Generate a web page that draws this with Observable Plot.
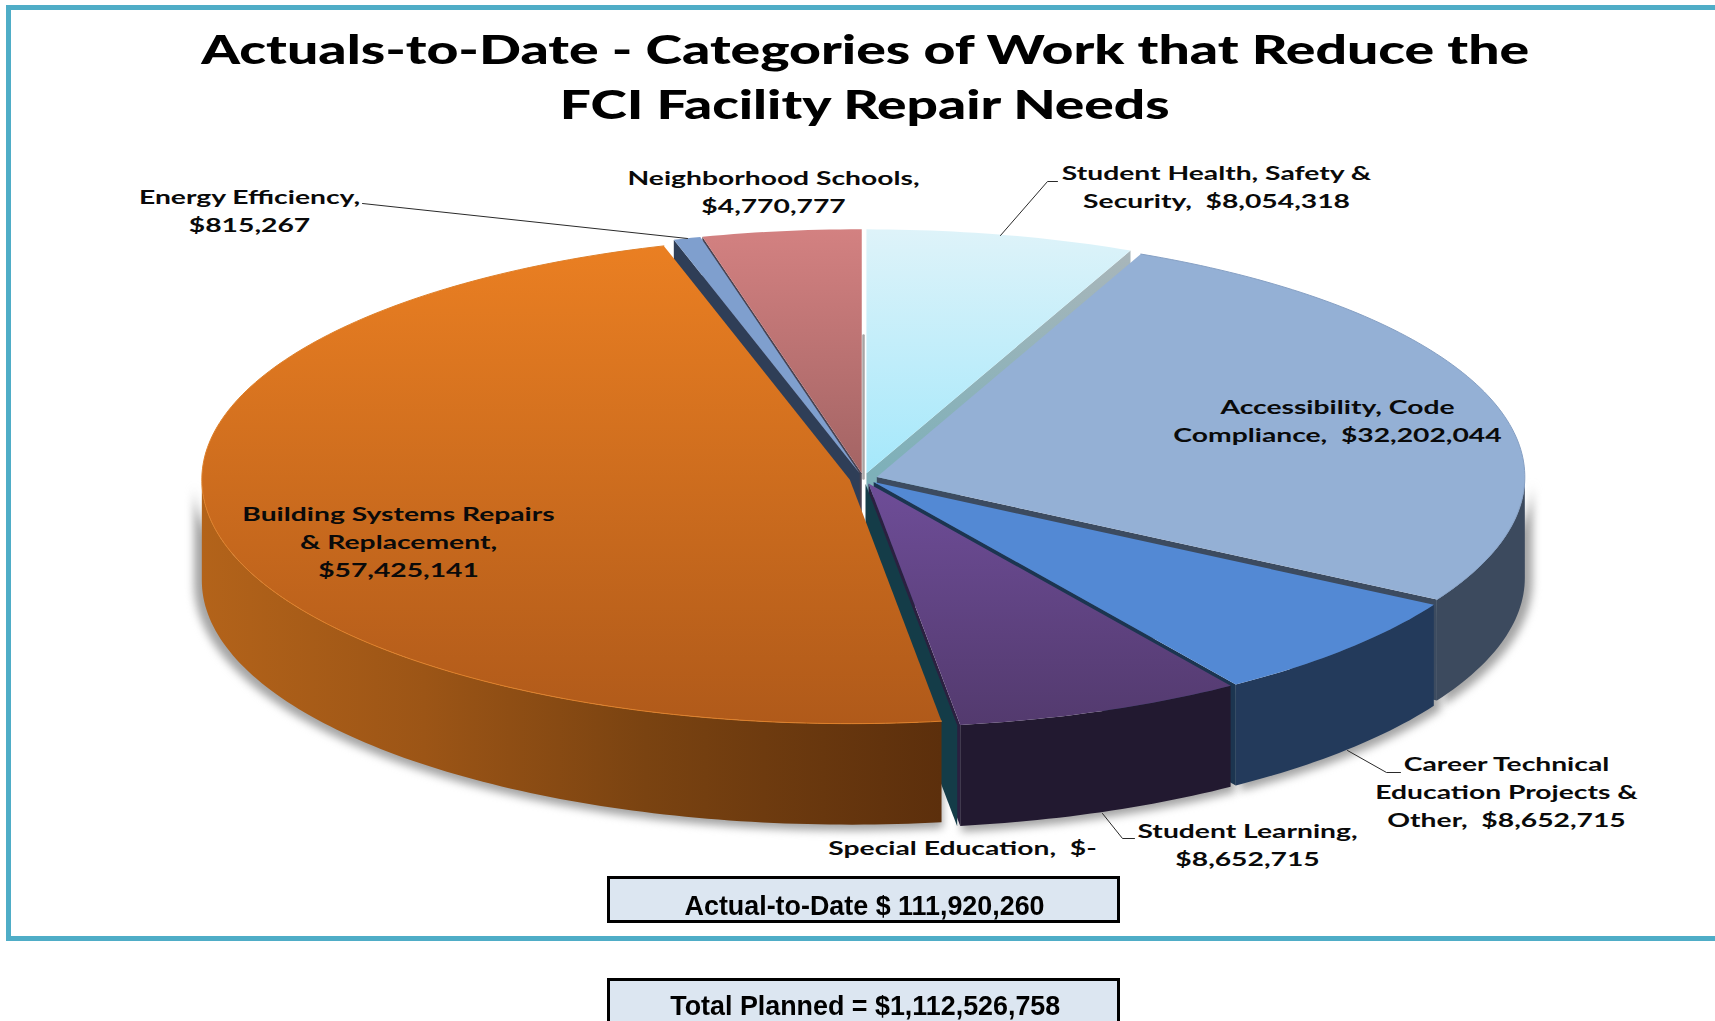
<!DOCTYPE html>
<html>
<head>
<meta charset="utf-8">
<script src="https://cdn.jsdelivr.net/npm/d3@7"></script>
<script src="https://cdn.jsdelivr.net/npm/@observablehq/plot@0.6"></script>
<style>
  html, body { margin: 0; padding: 0; background: #fff; width: 1715px; height: 1021px; overflow: hidden; }
  #page { position: relative; width: 1715px; height: 1021px; overflow: hidden; }
  #frame { position: absolute; left: 6px; top: 5px; width: 1800px; height: 926px; border: 5px solid #4fadc7; }
  #chart { position: absolute; left: 0; top: 0; }
  #chart svg text { white-space: pre; }
  .line { position: absolute; left: -135px; width: 2000px; text-align: center; white-space: nowrap; color: #000; }
  .line span { display: inline-block; transform-origin: center; white-space: pre; }
  .title { font: 900 40px/40px Lato, sans-serif; }
  .box { position: absolute; left: 607px; width: 507px; border: 3px solid #000; background: #dce6f1; }
  .boxText { font: 700 28px/30px "Liberation Sans", Arial, sans-serif; }
</style>
</head>
<body>
<div id="page">
  <div id="frame"></div>
  <div class="box" style="top:876px;height:41px"></div>
  <div class="box" style="top:978px;height:60px"></div>
  <div id="chart"></div>
  <div class="line title" style="top:29px"><span data-w="1328">Actuals-to-Date - Categories of Work that Reduce the</span></div>
  <div class="line title" style="top:84px"><span data-w="610">FCI Facility Repair Needs</span></div>
  <div class="line boxText" style="top:891px"><span data-w="360">Actual-to-Date $ 111,920,260</span></div>
  <div class="line boxText" style="top:991px"><span data-w="390">Total Planned = $1,112,526,758</span></div>
</div>
<script>
// ---- chart values ----
const categories = ["Student Health, Safety & Security", "Accessibility, Code Compliance", "Career Technical Education Projects & Other", "Student Learning", "Special Education", "Building Systems Repairs & Replacement", "Energy Efficiency", "Neighborhood Schools"];
const values = [8054318, 32202044, 8652715, 8652715, 0, 57425141, 815267, 4770777];
const labelTexts = [
  "Student Health, Safety &\nSecurity,  $8,054,318",
  "Accessibility, Code\nCompliance,  $32,202,044",
  "Career Technical\nEducation Projects &\nOther,  $8,652,715",
  "Student Learning,\n$8,652,715",
  "Special Education,  $-",
  "Building Systems Repairs\n& Replacement,\n$57,425,141",
  "Energy Efficiency,\n$815,267",
  "Neighborhood Schools,\n$4,770,777"
];

// ---- layout and style (pixels of the page, converted through the scales' inverse) ----
const cx = 863, cy = 478, rx = 648, ry = 244;
const explode = 0.0216, depth = 101 / ry;
const toX = (px) => (px - cx) / rx, toY = (py) => (py - cy) / ry;
const labelCenters = [[1216, 184.5], [1337, 418.5], [1506, 789.5], [1247, 842.5], [962, 846], [398, 539.5], [249, 208.5], [773, 189.5]];
const leaders = [
  [[1057, 181], [1047, 181], [1000, 235]],
  [[1400, 772], [1386, 772], [1347, 750]],
  [[1134, 838], [1122, 838], [1102, 813]],
  [[362, 203], [687, 238]]
];
const topFills = ["url(#gHealth)", "#94b0d5", "#5389d4", "url(#gLearn)", "#143c48", "url(#gOrange)", "#7f9fce", "url(#gRose)"];
const faceFills = ["url(#gHealthFace)", "#3c4b60", "#1c3550", "#2b2040", "#143c48", "#5e3010", "#2f3e57", "#4a4250"];
const wallFills = ["#3c4a5e", "#3c4a5e", "#233a5b", "#221930", "#143c48", "url(#gOrangeWall)", "#2f3e57", "#5e4a4e"];
const rimColors = [null, "#86a0c4", null, null, null, "#df8029", null, null];

// ---- geometry derived from the values ----
const total = d3.sum(values);
const rad = (deg) => deg * Math.PI / 180;
let running = 0;
const slices = values.map((v, i) => {
  const a0 = running / total * 360;
  running += v;
  const a1 = running / total * 360;
  const mid = rad((a0 + a1) / 2);
  return { i, a0, a1, ox: explode * Math.sin(mid), oy: -explode * Math.cos(mid) };
});
const rimPoint = (s, a, drop = 0, k = 1) => ({ x: s.ox + k * Math.sin(rad(a)), y: s.oy - k * Math.cos(rad(a)) + drop });
const arc = (s, a0, a1, drop = 0, k = 1) => {
  const n = Math.max(1, Math.ceil(a1 - a0));
  return d3.range(n + 1).map((j) => rimPoint(s, a0 + (a1 - a0) * j / n, drop, k));
};
const apex = (s, drop = 0) => ({ x: s.ox, y: s.oy + drop });
const topFace = (s) => [apex(s), ...arc(s, s.a0, s.a1)];
const radialFace = (s, a) => [apex(s), rimPoint(s, a), rimPoint(s, a, depth), apex(s, depth)];
const outerWall = (s, k = 1, lift = 0) => {
  const a0 = Math.max(s.a0, 90), a1 = Math.min(s.a1, 270);
  if (a1 <= a0) return null;
  return [...arc(s, a0, a1, lift, k), ...arc(s, a0, a1, depth + lift, k).reverse()];
};
const poly = (points, options) => Plot.line(points, { x: "x", y: "y", stroke: "none", ...options });

// ---- gradients ----
const defs = () => {
  const d = d3.create("svg:defs");
  const grad = (id, stops, horizontal = false) => {
    const g = d.append("linearGradient").attr("id", id).attr("x1", 0).attr("y1", 0)
      .attr("x2", horizontal ? 1 : 0).attr("y2", horizontal ? 0 : 1);
    stops.forEach(([o, c]) => g.append("stop").attr("offset", o).attr("stop-color", c));
  };
  grad("gHealth", [[0, "#def3f9"], [1, "#a5e8fb"]]);
  grad("gHealthFace", [[0, "#a9b6ba"], [0.69, "#7db0b9"], [1, "#7db0b9"]]);
  grad("gLearn", [[0, "#6e4d98"], [1, "#533a6e"]]);
  grad("gOrange", [[0, "#ea7f22"], [1, "#b05a1a"]]);
  grad("gRose", [[0, "#d38181"], [1, "#a36464"]]);
  grad("gOrangeWall", [[0, "#b3631a"], [0.3, "#9c5516"], [0.6, "#7a4311"], [1, "#5c2f0c"]], true);
  return d.node();
};

// ---- marks, painted back to front ----
const marks = [defs];
// soft shadow round the front of the pie
slices.forEach((s) => {
  const w = outerWall(s, 1.012, 0.012);
  if (w) marks.push(poly(w, { fill: "#a4a4a4", imageFilter: "blur(4px)" }));
});
// the cut faces that look towards the viewer (back-left faces from the far side inward)
[...slices].reverse().forEach((s) => {
  if (s.a0 > 180) marks.push(poly(radialFace(s, s.a0), { fill: faceFills[s.i] }));
});
slices.forEach((s) => {
  if (s.a1 < 180) marks.push(poly(radialFace(s, s.a1), { fill: faceFills[s.i] }));
});
// sliver seen through the gap at twelve o'clock
marks.push(Plot.line([{ x: 0, y: -1 + depth }, { x: 0, y: 0 }], { x: "x", y: "y", stroke: "#a8a4a4", strokeWidth: 2.5 }));
// outer walls
slices.forEach((s) => {
  const w = outerWall(s);
  if (w) marks.push(poly(w, { fill: wallFills[s.i] }));
});
// top faces
slices.forEach((s) => {
  if (s.a1 > s.a0) marks.push(poly(topFace(s), { fill: topFills[s.i] }));
  if (rimColors[s.i]) marks.push(Plot.line(arc(s, s.a0, s.a1), { x: "x", y: "y", stroke: rimColors[s.i], strokeWidth: 1 }));
});
// leader lines
leaders.forEach((l) => marks.push(Plot.line(l.map(([x, y]) => ({ x: toX(x), y: toY(y) })), { x: "x", y: "y", stroke: "#2a2a2a", strokeWidth: 1 })));
// data labels
const labelRows = labelTexts.map((text, i) => ({ text, category: categories[i], x: toX(labelCenters[i][0]), y: toY(labelCenters[i][1]) }));
marks.push(Plot.text(labelRows, {
  x: "x", y: "y", text: "text", fill: "#0a0a0a",
  fontFamily: "Lato, sans-serif", fontWeight: 700, fontSize: 19.5, lineHeight: 28 / 19.5, textAnchor: "middle"
}));

const chart = Plot.plot({
  width: 1715, height: 1021, margin: 0,
  style: { background: "transparent", overflow: "visible" },
  x: { axis: null, domain: [-1, 1], range: [cx - rx, cx + rx] },
  y: { axis: null, domain: [-1, 1], range: [cy - ry, cy + ry] },
  marks
});
document.getElementById("chart").append(chart);

// the reference's type is stretched sideways
chart.querySelectorAll('g[aria-label="text"] text').forEach((t) => {
  t.setAttribute("transform", (t.getAttribute("transform") || "") + " scale(1.45,1)");
});
document.querySelectorAll(".line span").forEach((s) => {
  const w = s.getBoundingClientRect().width;
  s.style.transform = `scaleX(${+s.dataset.w / w})`;
});
</script>
</body>
</html>
